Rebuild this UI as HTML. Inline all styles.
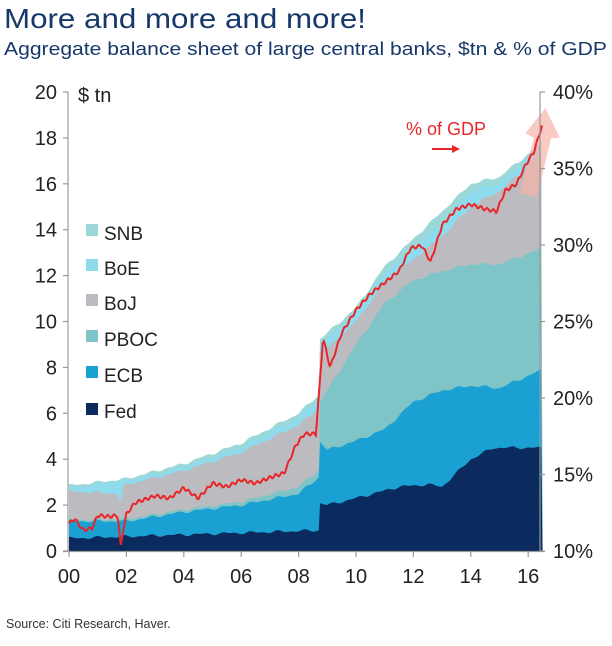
<!DOCTYPE html><html><head><meta charset="utf-8"><style>
body{margin:0;background:#fff;width:612px;height:641px;overflow:hidden;font-family:"Liberation Sans",Arial,sans-serif}
</style></head><body>
<svg id="s" width="612" height="641" xmlns="http://www.w3.org/2000/svg" font-family="Liberation Sans, Arial, sans-serif">
<text x="4" y="28" font-size="28" fill="#17386b" textLength="362" lengthAdjust="spacingAndGlyphs">More and more and more!</text>
<text x="4" y="55" font-size="18" fill="#17386b" textLength="603" lengthAdjust="spacingAndGlyphs">Aggregate balance sheet of large central banks, $tn &amp; % of GDP</text>
<g id="areas"></g>
<g stroke="#999" stroke-width="1.2" fill="none">
<line x1="68" y1="92" x2="68" y2="552"/><line x1="540" y1="92" x2="540" y2="552"/><line x1="63" y1="551.5" x2="545" y2="551.5"/>
</g>
<g id="ticks" stroke="#999" stroke-width="1.2"></g>
<g font-size="20" fill="#222" id="lab"></g>
<text x="78" y="102" font-size="20" fill="#222">$ tn</text>
<text x="406" y="135" font-size="18" fill="#e8262a">% of GDP</text>
<line x1="432" y1="149" x2="452" y2="149" stroke="#e8262a" stroke-width="2"/><polygon points="452,145 460,149 452,153" fill="#e8262a"/>
<g font-size="19" fill="#222">
<rect x="86" y="224" width="12" height="12" fill="#9dd8d8"/><text x="104" y="240">SNB</text>
<rect x="86" y="259" width="12" height="12" fill="#8edbee"/><text x="104" y="275">BoE</text>
<rect x="86" y="294" width="12" height="12" fill="#bcbcc0"/><text x="104" y="310">BoJ</text>
<rect x="86" y="330" width="12" height="12" fill="#7fc4c6"/><text x="104" y="346">PBOC</text>
<rect x="86" y="366" width="12" height="12" fill="#1aa0d2"/><text x="104" y="382">ECB</text>
<rect x="86" y="403" width="12" height="12" fill="#0b2a5e"/><text x="104" y="418">Fed</text>
</g>
<text x="6" y="628" font-size="12.5" fill="#333">Source: Citi Research, Haver.</text>
</svg>
<script>
const X=y=>69+y*28.7, Y=v=>551-v*22.95;
function interp(pts,t){for(let i=0;i<pts.length-1;i++){if(t<=pts[i+1][0]){const a=pts[i],b=pts[i+1];const f=b[0]==a[0]?1:(t-a[0])/(b[0]-a[0]);return a[1]+f*(b[1]-a[1]);}}return pts[pts.length-1][1];}
const fed=[[0,.55],[8.7,.9],[8.72,2.1],[9,2.0],[10,2.3],[11.5,2.8],[12.5,2.9],[13,2.8],[14,4.0],[14.8,4.5],[16.5,4.5]];
const ecb=[[0,1.3],[2,1.3],[4,1.7],[6,2.0],[8,2.5],[8.7,3.2],[8.72,4.8],[9,4.4],[10,4.8],[11,5.3],[12,6.5],[13,7.0],[14,7.2],[15,7.1],[16.5,7.9]];
const pboc=[[0,1.35],[2,1.4],[4,1.8],[6,2.15],[8,2.8],[8.7,3.5],[8.72,6.5],[9,7.0],[10,9.0],[11,10.8],[12,11.8],[13,12.2],[14,12.5],[15,12.5],[16.5,13.2]];
const boj=[[0,2.6],[1.7,2.5],[1.8,2.1],[1.9,2.8],[2,2.9],[4,3.5],[6,4.3],[8,5.5],[8.7,6.2],[8.72,8.7],[9,8.8],[10,10.0],[11,11.7],[12,12.7],[13,13.7],[14,15.0],[15,15.7],[16.5,17.3]];
const boe=[[0,2.75],[2,3.05],[4,3.65],[6,4.5],[8,5.8],[8.7,6.6],[8.72,9.0],[9,9.2],[10,10.4],[11,12.1],[12,13.2],[13,14.3],[14,15.7],[15,16.0],[16.5,17.6]];
const snb=[[0,2.85],[2,3.15],[4,3.8],[6,4.7],[8,6.0],[8.7,6.8],[8.72,9.2],[9,9.5],[10,10.6],[11,12.4],[12,13.6],[13,14.8],[14,16.0],[15,16.3],[16.5,17.8]];
const series=[[snb,"#9dd8d8"],[boe,"#8edbee"],[boj,"#bcbcc0"],[pboc,"#7fc4c6"],[ecb,"#1aa0d2"],[fed,"#0b2a5e"]];
let h="";
function noise(t,k){return Math.sin(t*7+k)*0.04+Math.sin(t*13+k*2)*0.03;}
for(const [s,c] of series){let d="M"+X(0)+","+Y(0);for(let t=0;t<=16.5;t+=0.05){d+=" L"+X(t).toFixed(1)+","+Y(interp(s,t)+noise(t,c.length)).toFixed(1);}d+=" L"+X(16.5)+","+Y(0)+"Z";h+=`<path d="${d}" fill="${c}"/>`;}
h+=`<polygon points="${X(15.7)},${Y(15.6)} ${X(16.2)},${Y(18.0)} ${X(15.9)},${Y(18.2)} ${X(16.6)},${Y(19.3)} ${X(17.1)},${Y(18.0)} ${X(16.8)},${Y(18.0)} ${X(16.3)},${Y(15.4)}" fill="#f6b3a8" opacity="0.7"/>`;
const red=[[0,1.2],[0.2,1.4],[0.5,0.9],[0.8,1.0],[1,1.55],[1.4,1.5],[1.7,1.55],[1.8,0.2],[1.9,1.0],[2,1.6],[2.3,2.1],[3,2.4],[3.5,2.3],[4,2.75],[4.5,2.3],[5,2.95],[5.5,2.8],[6,3.1],[6.5,2.95],[7,3.2],[7.5,3.4],[7.9,4.6],[8.2,5.1],[8.6,5.1],[8.75,7.5],[8.85,9.3],[9.1,8.0],[9.5,9.5],[10,10.5],[10.5,11.2],[11,11.7],[11.5,12.2],[11.9,13.2],[12.3,13.3],[12.6,12.6],[13,14.2],[13.5,14.9],[14,15.1],[14.5,14.9],[14.9,14.8],[15.2,15.7],[15.6,16.0],[15.9,16.8],[16.2,17.4],[16.5,18.6]];
let d="";for(let t=0;t<=16.5;t+=0.04){d+=(d?" L":"M")+X(t).toFixed(1)+","+Y(interp(red,t)+Math.sin(t*29)*0.07).toFixed(1);}
h+=`<path d="${d}" fill="none" stroke="#e8262a" stroke-width="2"/>`;
document.getElementById("areas").innerHTML=h;
let tk="",lb="";
for(let v=0;v<=20;v+=2){const y=Y(v);tk+=`<line x1="63" y1="${y}" x2="68" y2="${y}"/>`;lb+=`<text x="57" y="${y+7}" text-anchor="end">${v}</text>`;}
for(let p=10;p<=40;p+=5){const y=551-(p-10)*15.3;tk+=`<line x1="540" y1="${y}" x2="545" y2="${y}"/>`;lb+=`<text x="553" y="${y+7}">${p}%</text>`;}
for(let yr=0;yr<=16;yr+=2){const x=X(yr);tk+=`<line x1="${x}" y1="551" x2="${x}" y2="557"/>`;lb+=`<text x="${x}" y="583" text-anchor="middle">${String(yr).padStart(2,"0")}</text>`;}
document.getElementById("ticks").innerHTML=tk;document.getElementById("lab").innerHTML=lb;
</script>
</body></html>
